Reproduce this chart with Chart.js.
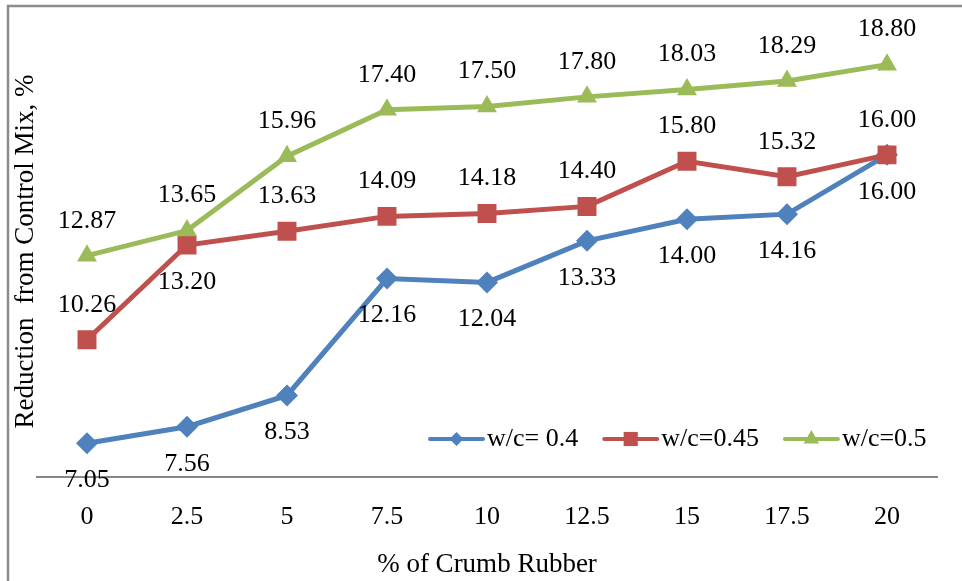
<!DOCTYPE html>
<html>
<head>
<meta charset="utf-8">
<title>Reduction from Control Mix</title>
<script src="https://cdn.jsdelivr.net/npm/chart.js@4.4.1/dist/chart.umd.min.js"></script>
<style>
    html, body { margin: 0; padding: 0; background: #fff; }
    canvas { display: block; }
</style>
</head>
<body>
<canvas id="reductionChart" width="962" height="581"></canvas>
<script>
// Crumb rubber content, %
const rubberContent = ['0', '2.5', '5', '7.5', '10', '12.5', '15', '17.5', '20'];

// Reduction from control mix, % (one series per w/c ratio)
const reductionWc040 = [7.05, 7.56, 8.53, 12.16, 12.04, 13.33, 14.00, 14.16, 16.00];
const reductionWc045 = [10.26, 13.20, 13.63, 14.09, 14.18, 14.40, 15.80, 15.32, 16.00];
const reductionWc050 = [12.87, 13.65, 15.96, 17.40, 17.50, 17.80, 18.03, 18.29, 18.80];

const seriesNames = ['w/c= 0.4', 'w/c=0.45', 'w/c=0.5'];

const serifFont = '"Liberation Serif", "Times New Roman", serif';
const textSize = 26;
const titleSize = 27;

// Gray frame along the left and top edge
const chartFrame = {
    id: 'chartFrame',
    beforeDraw(chart) {
        const ctx = chart.ctx;
        ctx.save();
        ctx.strokeStyle = '#8c8c8c';
        ctx.lineWidth = 2.5;
        ctx.beginPath();
        ctx.moveTo(8, chart.height);
        ctx.lineTo(8, 6);
        ctx.lineTo(chart.width, 6);
        ctx.stroke();
        ctx.restore();
    }
};

// Value labels above / below every point
const pointLabels = {
    id: 'pointLabels',
    afterDatasetsDraw(chart) {
        const ctx = chart.ctx;
        ctx.save();
        ctx.font = textSize + 'px ' + serifFont;
        ctx.fillStyle = '#000';
        ctx.textAlign = 'center';
        ctx.textBaseline = 'middle';
        chart.data.datasets.forEach((ds, i) => {
            const meta = chart.getDatasetMeta(i);
            meta.data.forEach((pt, j) => {
                const side = ds.labelSide[j];
                const dy = side === 'below' ? 37 : -35;
                ctx.fillText(ds.data[j].toFixed(2), pt.x, pt.y + dy);
            });
        });
        ctx.restore();
    }
};

// Draw a legend marker with the library's point helper when available
function drawMarker(ctx, style, radius, x, y) {
    if (Chart.helpers && Chart.helpers.drawPoint) {
        Chart.helpers.drawPoint(ctx, { pointStyle: style, radius: radius, rotation: 0, borderWidth: 0 }, x, y);
        return;
    }
    ctx.beginPath();
    if (style === 'rectRot') {
        ctx.moveTo(x - radius, y); ctx.lineTo(x, y - radius);
        ctx.lineTo(x + radius, y); ctx.lineTo(x, y + radius);
    } else if (style === 'triangle') {
        ctx.moveTo(x, y - radius);
        ctx.lineTo(x + radius * 0.866, y + radius / 2);
        ctx.lineTo(x - radius * 0.866, y + radius / 2);
    } else {
        const s = radius * Math.SQRT1_2;
        ctx.rect(x - s, y - s, 2 * s, 2 * s);
    }
    ctx.closePath();
    ctx.fill();
}

// Legend sitting inside the plot, lower right
const insideLegend = {
    id: 'insideLegend',
    afterDraw(chart) {
        const { ctx, chartArea } = chart;
        ctx.save();
        ctx.font = textSize + 'px ' + serifFont;
        ctx.textBaseline = 'middle';
        ctx.textAlign = 'left';
        let x = chartArea.left + 393;
        const y = chartArea.bottom - 38;
        chart.data.datasets.forEach(ds => {
            ctx.strokeStyle = ds.borderColor;
            ctx.fillStyle = ds.borderColor;
            ctx.lineWidth = 4;
            ctx.lineCap = 'round';
            ctx.beginPath();
            ctx.moveTo(x, y);
            ctx.lineTo(x + 53, y);
            ctx.stroke();
            drawMarker(ctx, ds.pointStyle, ds.legendRadius, x + 26.5, y);
            ctx.fillStyle = '#000';
            ctx.fillText(ds.label, x + 57, y);
            x += 57 + ctx.measureText(ds.label).width + 26;
        });
        ctx.restore();
    }
};

const ctx = document.getElementById('reductionChart').getContext('2d');
const reductionChart = new Chart(ctx, {
    type: 'line',
    data: {
        labels: rubberContent,
        datasets: [
            {
                label: seriesNames[0],
                data: reductionWc040,
                borderColor: '#4F81BD',
                backgroundColor: '#4F81BD',
                pointBackgroundColor: '#4F81BD',
                pointStyle: 'rectRot',
                pointRadius: 11,
                legendRadius: 7,
                labelSide: ['below', 'below', 'below', 'below', 'below', 'below', 'below', 'below', 'below'],
                order: 3
            },
            {
                label: seriesNames[1],
                data: reductionWc045,
                borderColor: '#C0504D',
                backgroundColor: '#C0504D',
                pointBackgroundColor: '#C0504D',
                pointStyle: 'rect',
                pointRadius: 13.4,
                legendRadius: 10,
                labelSide: ['above', 'below', 'above', 'above', 'above', 'above', 'above', 'above', 'above'],
                order: 2
            },
            {
                label: seriesNames[2],
                data: reductionWc050,
                borderColor: '#9BBB59',
                backgroundColor: '#9BBB59',
                pointBackgroundColor: '#9BBB59',
                pointStyle: 'triangle',
                pointRadius: 11.5,
                legendRadius: 9,
                labelSide: ['above', 'above', 'above', 'above', 'above', 'above', 'above', 'above', 'above'],
                order: 1
            }
        ]
    },
    options: {
        responsive: false,
        devicePixelRatio: 1,
        animation: false,
        elements: {
            line: { borderWidth: 5, tension: 0, fill: false },
            point: { borderWidth: 0, hoverRadius: 11 }
        },
        layout: {
            padding: { left: 0, top: 26, right: 25, bottom: 0 }
        },
        plugins: {
            legend: { display: false },
            tooltip: { enabled: false }
        },
        scales: {
            x: {
                offset: true,
                grid: { display: false, drawTicks: false },
                border: { display: true, color: '#868686', width: 2 },
                ticks: {
                    color: '#000',
                    font: { family: serifFont, size: textSize },
                    padding: 25,
                    maxRotation: 0,
                    autoSkip: false
                },
                title: {
                    display: true,
                    text: '% of Crumb Rubber',
                    color: '#000',
                    font: { family: serifFont, size: titleSize },
                    padding: { top: 0, bottom: 0 }
                },
                afterFit(scale) { scale.height = 104; }
            },
            y: {
                min: 6,
                max: 20,
                grid: { display: false, drawTicks: false },
                border: { display: false },
                ticks: { display: false },
                title: {
                    display: true,
                    text: 'Reduction  from Control Mix, %',
                    color: '#000',
                    font: { family: serifFont, size: titleSize },
                    padding: { top: 10, bottom: 0 }
                },
                afterFit(scale) { scale.width = 37; }
            }
        }
    },
    plugins: [chartFrame, pointLabels, insideLegend]
});
</script>
</body>
</html>
